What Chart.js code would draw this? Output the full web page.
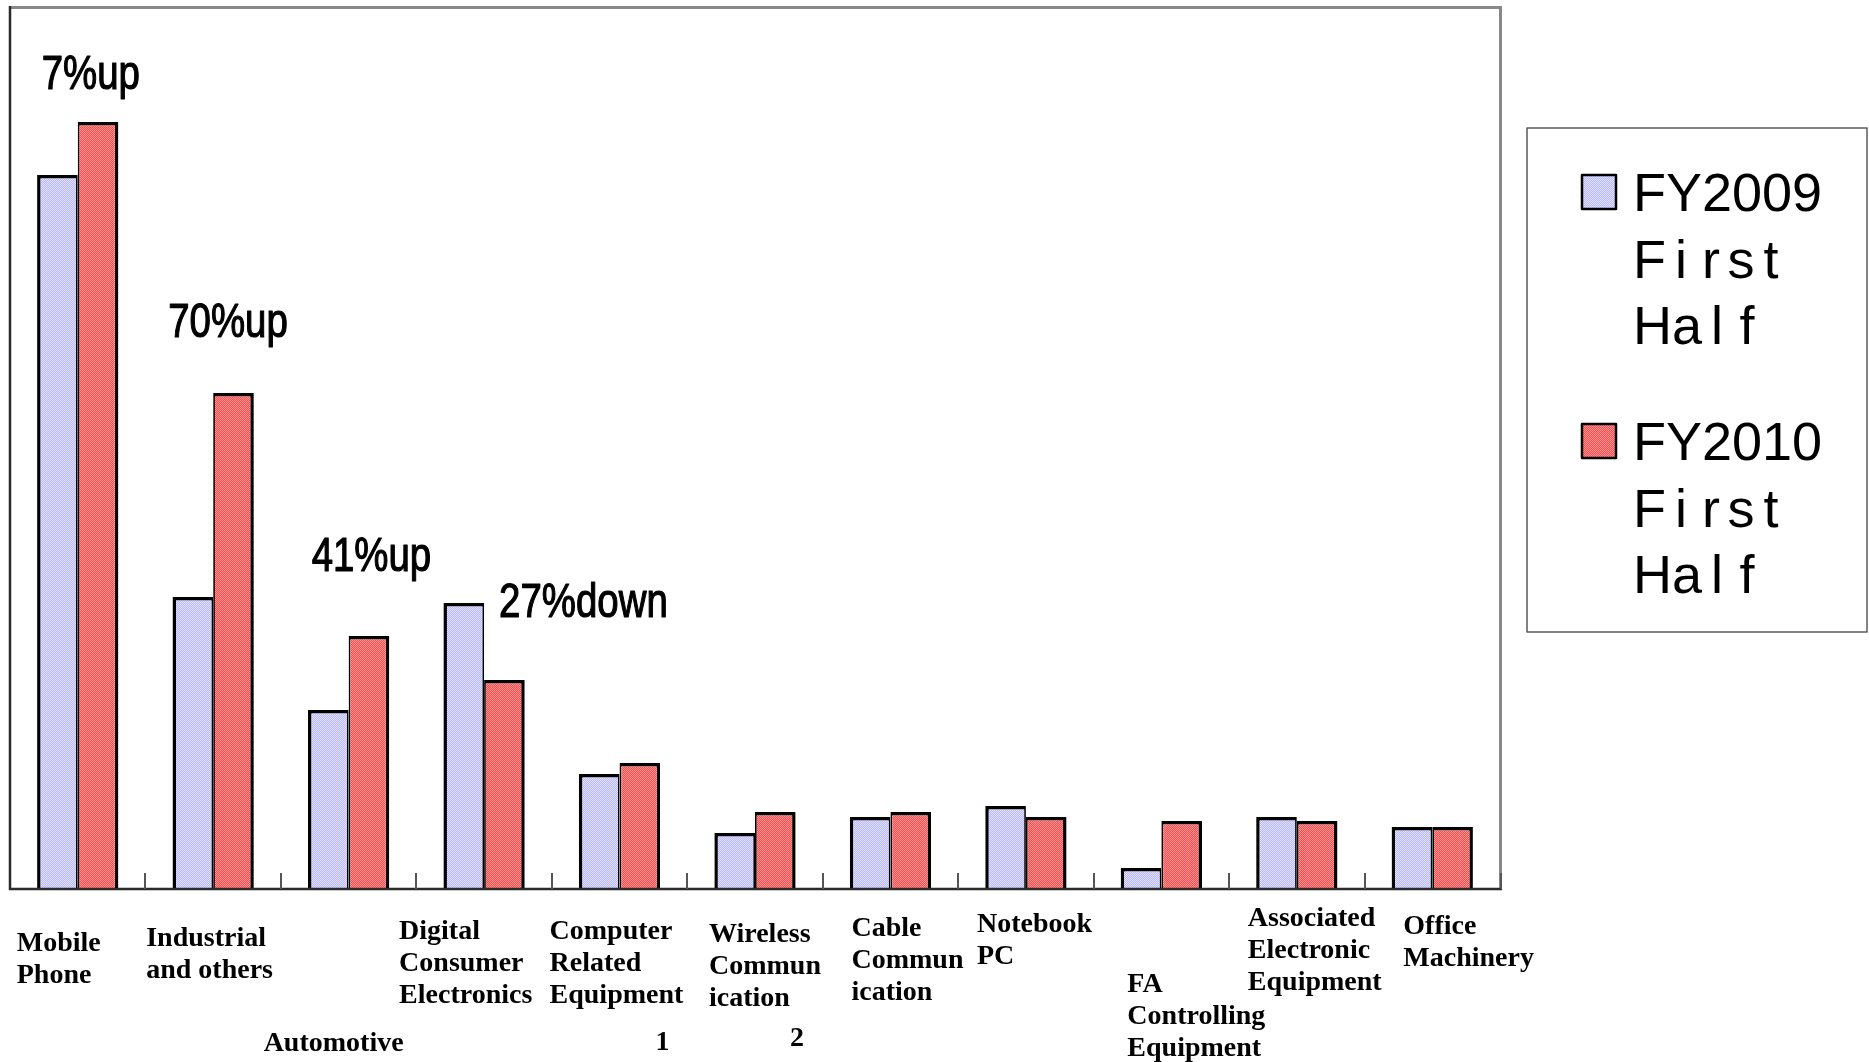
<!DOCTYPE html>
<html>
<head>
<meta charset="utf-8">
<script src="https://cdn.jsdelivr.net/npm/chart.js@4.4.1/dist/chart.umd.min.js"></script>
<style>
  html, body { margin: 0; padding: 0; background: #ffffff; }
  canvas { display: block; }
</style>
</head>
<body>
<canvas id="chart" width="1869" height="1062"></canvas>
<script>
// Sales by application, first half of each fiscal year
const categories = [
  ['Mobile', 'Phone'],
  ['Industrial', 'and others'],
  ['Automotive'],
  ['Digital', 'Consumer', 'Electronics'],
  ['Computer', 'Related', 'Equipment'],
  ['Wireless', 'Commun', 'ication'],
  ['Cable', 'Commun', 'ication'],
  ['Notebook', 'PC'],
  ['FA', 'Controlling', 'Equipment'],
  ['Associated', 'Electronic', 'Equipment'],
  ['Office', 'Machinery']
];
const footnoteMarks = ['', '', '', '', '1', '2', '', '', '', '', ''];
const seriesNames = ['FY2009 First Half', 'FY2010 First Half'];
const fy2009 = [71.4, 29.2, 17.9, 28.6, 11.5, 5.6, 7.2, 8.3, 2.1, 7.2, 6.2];
const fy2010 = [76.7, 49.6, 25.3, 20.9, 12.6, 7.7, 7.7, 7.2, 6.8, 6.8, 6.2];
const changeNotes = ['7%up', '70%up', '41%up', '27%down'];
const yMax = 88.1;

// Placement of the category captions: [dx from category centre, baseline below axis]
const captionLayout = [
  [-61, 62], [-67, 57], [-85, 162], [-85, 50], [-70, 50], [-46, 53],
  [-39, 47], [-49, 43], [-34, 103], [-49, 37], [-29, 45]
];
// Footnote numbers: [dx from category centre, baseline below axis]
const footnoteLayout = { 4: [43, 161], 5: [42, 157] };
// Change notes: [dx from the FY2010 bar's left edge, baseline above its top]
const noteLayout = [[-36, 33], [-45, 56], [-37, 65], [15, 63]];

function makePattern(dark, light) {
  const c = document.createElement('canvas');
  c.width = 2; c.height = 2;
  const g = c.getContext('2d');
  g.fillStyle = dark; g.fillRect(0, 0, 2, 2);
  g.fillStyle = light; g.fillRect(0, 0, 1, 1); g.fillRect(1, 1, 1, 1);
  return g.createPattern(c, 'repeat');
}
const blueFill = makePattern('#b8b8ff', '#e2e2ff');
const redFill = makePattern('#ff4848', '#ff9898');

const framePlugin = {
  id: 'frame',
  afterDatasetsDraw(chart) {
    const { ctx, chartArea: a, scales: { x } } = chart;
    ctx.save();
    ctx.lineCap = 'butt';
    // top and right edges of the plot
    ctx.strokeStyle = '#888888';
    ctx.lineWidth = 3;
    ctx.beginPath();
    ctx.moveTo(a.left, a.top - 0.5);
    ctx.lineTo(a.right + 0.5, a.top - 0.5);
    ctx.lineTo(a.right + 0.5, a.bottom);
    ctx.stroke();
    // value axis and category axis
    ctx.strokeStyle = '#2b2b2b';
    ctx.lineWidth = 2.5;
    ctx.beginPath();
    ctx.moveTo(a.left, a.top - 2);
    ctx.lineTo(a.left, a.bottom);
    ctx.lineTo(a.right + 2, a.bottom);
    ctx.stroke();
    // category separators, pointing up into the plot
    ctx.strokeStyle = '#555555';
    ctx.lineWidth = 2;
    const n = categories.length;
    for (let i = 1; i <= n; i++) {
      const px = i < n ? (x.getPixelForValue(i - 1) + x.getPixelForValue(i)) / 2 : a.right + 0.5;
      ctx.beginPath();
      ctx.moveTo(Math.round(px), a.bottom);
      ctx.lineTo(Math.round(px), a.bottom - 16);
      ctx.stroke();
    }
    ctx.restore();
  },
  afterDraw(chart) {
    const { ctx, chartArea: a, scales: { x, y } } = chart;
    ctx.save();
    ctx.fillStyle = '#000000';

    // category captions
    ctx.font = 'bold 28px "Liberation Serif", "DejaVu Serif", serif';
    ctx.textAlign = 'left';
    ctx.textBaseline = 'alphabetic';
    categories.forEach((lines, i) => {
      const cx = x.getPixelForValue(i);
      const [dx, by] = captionLayout[i];
      lines.forEach((t, k) => ctx.fillText(t, cx + dx, a.bottom + by + k * 32));
      if (footnoteMarks[i]) {
        const [fx, fy] = footnoteLayout[i];
        ctx.textAlign = 'center';
        ctx.fillText(footnoteMarks[i], cx + fx, a.bottom + fy);
        ctx.textAlign = 'left';
      }
    });

    // change notes above the leading categories
    const meta10 = chart.getDatasetMeta(1);
    ctx.font = '48px "Liberation Sans", Arial, sans-serif';
    ctx.strokeStyle = '#000000';
    ctx.lineWidth = 1.2;
    ctx.lineJoin = 'round';
    changeNotes.forEach((t, i) => {
      const bar = meta10.data[i];
      const left = bar.x - bar.width / 2;
      const [dx, dy] = noteLayout[i];
      ctx.save();
      ctx.translate(left + dx, y.getPixelForValue(fy2010[i]) - dy);
      ctx.scale(0.8, 1);
      ctx.fillText(t, 0, 0);
      ctx.strokeText(t, 0, 0);
      ctx.restore();
    });

    // legend
    const boxL = a.right + 27, boxT = 128, boxR = 1867, boxB = 632;
    ctx.strokeStyle = '#5a5a5a';
    ctx.lineWidth = 1.5;
    ctx.strokeRect(boxL, boxT, boxR - boxL, boxB - boxT);
    ctx.font = '54px "Liberation Sans", Arial, sans-serif';
    ctx.textAlign = 'center';
    const tops = [192, 441];
    chart.data.datasets.forEach((ds, d) => {
      const cy = tops[d];
      const sx = boxL + 55, sz = 34;
      ctx.fillStyle = ds.backgroundColor;
      ctx.fillRect(sx, cy - sz / 2, sz, sz);
      ctx.strokeStyle = '#000000';
      ctx.lineWidth = 2.5;
      ctx.strokeRect(sx, cy - sz / 2, sz, sz);
      ctx.fillStyle = '#000000';
      const words = ds.label.split(' ');
      words.forEach((w, k) => {
        let px = boxL + 106;
        const base = cy + 19 + k * 66.5;
        for (const ch of w) {
          const cell = Math.max(ctx.measureText(ch).width, 30);
          ctx.fillText(ch, px + cell / 2, base);
          px += cell;
        }
      });
    });
    ctx.restore();
  }
};

new Chart(document.getElementById('chart'), {
  type: 'bar',
  data: {
    labels: categories,
    datasets: [
      {
        label: seriesNames[0],
        data: fy2009,
        backgroundColor: blueFill,
        borderColor: '#000000',
        borderWidth: { top: 3.5, left: 3.5, right: 1.75, bottom: 0 },
        categoryPercentage: 0.6,
        barPercentage: 1.0
      },
      {
        label: seriesNames[1],
        data: fy2010,
        backgroundColor: redFill,
        borderColor: '#000000',
        borderWidth: { top: 3.5, left: 1.75, right: 3.5, bottom: 0 },
        categoryPercentage: 0.6,
        barPercentage: 1.0
      }
    ]
  },
  options: {
    responsive: false,
    animation: false,
    devicePixelRatio: 1,
    layout: { padding: { left: 10, top: 8, right: 369, bottom: 173 } },
    plugins: {
      legend: { display: false },
      tooltip: { enabled: false }
    },
    scales: {
      x: { display: false, offset: true },
      y: { display: false, min: 0, max: yMax }
    }
  },
  plugins: [framePlugin]
});
</script>
</body>
</html>
